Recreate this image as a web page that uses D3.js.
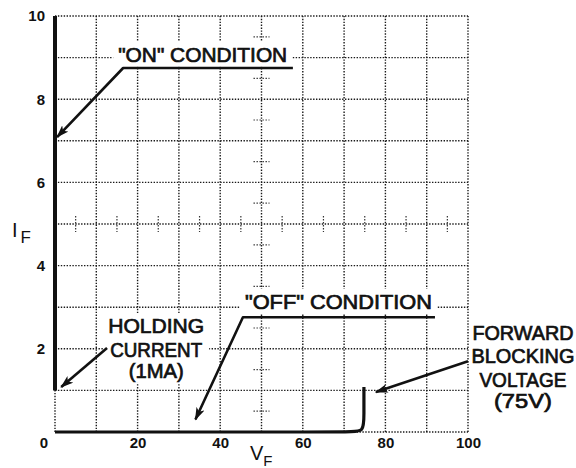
<!DOCTYPE html>
<html>
<head>
<meta charset="utf-8">
<script src="https://cdn.jsdelivr.net/npm/d3@7"></script>
<style>
  html, body { margin: 0; padding: 0; background: #fff; }
  svg { display: block; }
  text { font-family: "Liberation Sans", Arial, Helvetica, sans-serif; fill: #111; }
</style>
</head>
<body>
<svg id="chart" width="576" height="468"></svg>
<script>
// ---- data (V_F 0..100, I_F 0..10) ----
const xTickLabels = [20, 40, 60, 80, 100];
const yTickLabels = [2, 4, 6, 8, 10];
const xGrid = [0, 10, 20, 30, 40, 50, 60, 70, 80, 90, 100];
const yGrid = [0, 1, 2, 3, 4, 5, 6, 7, 8, 9, 10];
const centerTicksI = [0.5, 1.5, 2.5, 3.5, 4.5, 5.5, 6.5, 7.5, 8.5, 9.5];
const centerTicksV = [5, 15, 25, 35, 45, 55, 65, 75, 85, 95];

// "ON" state trace: vertical at V=0 from holding current up
const onTrace = [[0, 1.0], [0, 10]];
// "OFF" state trace: leakage along I=0 then breakover at 75V
const offTrace = [[0, 0], [71.5, 0], [74.8, 0], [74.8, 0.4], [74.8, 1.08]];

// annotation leader lines: [underline end, corner, arrow tip]
const onLeader = [[57.6, 8.75], [16.5, 8.75], [0.5, 7.09]];
const offLeader = [[92, 2.76], [45.5, 2.76], [34.0, 0.3]];
const holdLeader = [[12.6, 2.02], [1.5, 1.08]];
const fwdLeader = [[100, 1.7], [77.7, 0.96]];

// annotation texts: [text, x (data), baseline I (data), anchor, length px]
const onLabel = [["\"ON\" CONDITION", 15.3, 8.9, "start", 169]];
const offLabel = [["\"OFF\" CONDITION", 46.0, 2.96, "start", 187]];
const holdLabel = [["HOLDING", 24.5, 2.38, "middle", 96], ["CURRENT", 24.5, 1.8, "middle", 92], ["(1MA)", 24.5, 1.3, "middle", 55]];
const fwdLabel = [["FORWARD", 113.3, 2.21, "middle", 101], ["BLOCKING", 113.3, 1.66, "middle", 103], ["VOLTAGE", 113.3, 1.08, "middle", 87], ["(75V)", 113.3, 0.58, "middle", 58]];

// ---- drawing ----
const svg = d3.select("#chart");
const x = d3.scaleLinear().domain([0, 100]).range([55, 468]);
const y = d3.scaleLinear().domain([0, 10]).range([432, 16]);

const dot = { stroke: "#1a1a1a", width: 1.4, dash: "1.4 1.5" };

// grid
const grid = svg.append("g");
grid.selectAll("line.v").data(xGrid).join("line")
  .attr("x1", d => x(d)).attr("x2", d => x(d))
  .attr("y1", y(0)).attr("y2", y(10))
  .attr("stroke", dot.stroke).attr("stroke-width", dot.width).attr("stroke-dasharray", dot.dash);
grid.selectAll("line.h").data(yGrid).join("line")
  .attr("x1", x(0)).attr("x2", x(100))
  .attr("y1", d => y(d)).attr("y2", d => y(d))
  .attr("stroke", dot.stroke).attr("stroke-width", dot.width).attr("stroke-dasharray", dot.dash);

// graticule minor ticks on center lines
grid.selectAll("line.ci").data(centerTicksI).join("line")
  .attr("x1", x(50) - 8).attr("x2", x(50) + 8)
  .attr("y1", d => y(d)).attr("y2", d => y(d))
  .attr("stroke", "#333").attr("stroke-width", 1.2).attr("stroke-dasharray", "1.4 1.6");
grid.selectAll("line.cv").data(centerTicksV).join("line")
  .attr("x1", d => x(d)).attr("x2", d => x(d))
  .attr("y1", y(5) - 8).attr("y2", y(5) + 8)
  .attr("stroke", "#333").attr("stroke-width", 1.2).attr("stroke-dasharray", "1.4 1.6");

// axes tick labels
const yAxis = d3.axisLeft(y).tickValues(yTickLabels).tickSize(0).tickPadding(10).tickFormat(d3.format("d"));
const ya = svg.append("g").attr("transform", `translate(${x(0)},0)`).call(yAxis);
ya.select(".domain").remove();
ya.selectAll("text").attr("font-size", 15).attr("font-weight", "bold")
  .attr("font-family", "Liberation Sans, Arial, sans-serif").attr("fill", "#111");

const xAxis = d3.axisBottom(x).tickValues(xTickLabels).tickSize(0).tickPadding(5).tickFormat(d3.format("d"));
const xa = svg.append("g").attr("transform", `translate(0,${y(0)})`).call(xAxis);
xa.select(".domain").remove();
xa.selectAll("text").attr("font-size", 15).attr("font-weight", "bold")
  .attr("font-family", "Liberation Sans, Arial, sans-serif").attr("fill", "#111");

// shared origin label
svg.append("text").attr("x", x(0) - 11).attr("y", y(0) + 16)
  .attr("text-anchor", "middle").attr("font-size", 15).attr("font-weight", "bold").text("0");

// axis titles
const it = svg.append("text").attr("x", 12).attr("y", 237).attr("font-size", 20)
  .attr("font-family", "Liberation Serif, serif");
it.append("tspan").text("I");
it.append("tspan").attr("font-family", "Liberation Sans, sans-serif").attr("font-size", 17).attr("dx", 3).attr("dy", 6).text("F");

const vt = svg.append("text").attr("x", 250).attr("y", 460).attr("font-size", 20);
vt.append("tspan").text("V");
vt.append("tspan").attr("font-size", 15).attr("dy", 6).text("F");

// annotation texts with white knockout behind those inside the grid
[[onLabel, true], [offLabel, true], [holdLabel, true], [fwdLabel, false]].forEach(([set, knock]) => {
  const g = svg.append("g");
  const bg = g.append("g");
  const texts = g.selectAll("text").data(set).join("text")
    .attr("x", d => x(d[1])).attr("y", d => y(d[2]))
    .attr("text-anchor", d => d[3])
    .attr("font-size", 20)
    .attr("textLength", d => d[4]).attr("lengthAdjust", "spacingAndGlyphs")
    .attr("stroke", "#111").attr("stroke-width", 0.7)
    .text(d => d[0]);
  if (knock) {
    const boxes = texts.nodes().map(n => n.getBBox());
    const x0 = d3.min(boxes, b => b.x) - 5, x1 = d3.max(boxes, b => b.x + b.width) + 5;
    const y0 = d3.min(boxes, b => b.y) - 2, y1 = d3.max(boxes, b => b.y + b.height) + 1;
    bg.append("rect").attr("x", x0).attr("y", y0).attr("width", x1 - x0).attr("height", y1 - y0)
      .attr("fill", "#fff");
  }
});

// traces
const line = d3.line().x(d => x(d[0])).y(d => y(d[1]));
svg.append("path").datum(onTrace).attr("d", line)
  .attr("fill", "none").attr("stroke", "#111").attr("stroke-width", 4);
svg.append("path").datum(offTrace).attr("d", line.curve(d3.curveBasis))
  .attr("fill", "none").attr("stroke", "#111").attr("stroke-width", 3.2);
line.curve(d3.curveLinear);

// arrow marker
svg.append("defs").append("marker")
  .attr("id", "arr").attr("viewBox", "0 0 12 8").attr("refX", 11).attr("refY", 4)
  .attr("markerWidth", 13).attr("markerHeight", 9).attr("markerUnits", "userSpaceOnUse")
  .attr("orient", "auto")
  .append("path").attr("d", "M0,0 L12,4 L0,8 L3,4 Z").attr("fill", "#111");

[onLeader, offLeader, holdLeader, fwdLeader].forEach(l => {
  svg.append("path").datum(l).attr("d", line)
    .attr("fill", "none").attr("stroke", "#111").attr("stroke-width", 2.6)
    .attr("stroke-linejoin", "round")
    .attr("marker-end", "url(#arr)");
});
</script>
</body>
</html>
